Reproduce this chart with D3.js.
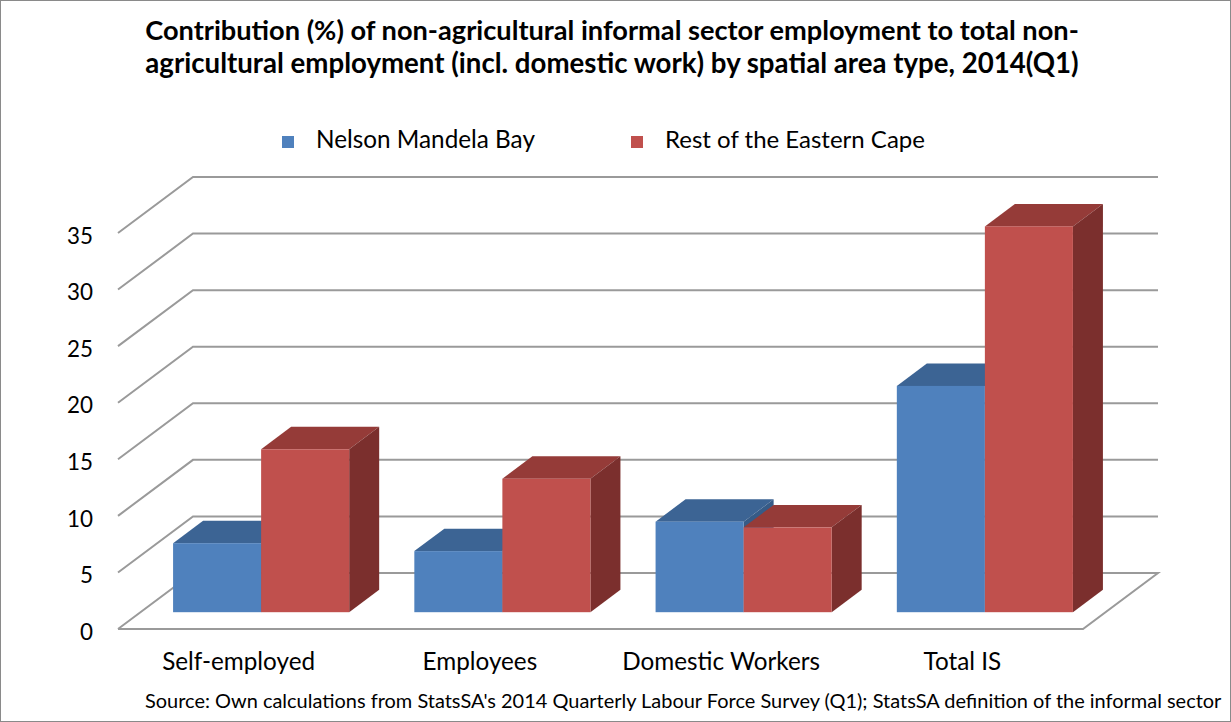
<!DOCTYPE html>
<html>
<head>
<meta charset="utf-8">
<script src="https://cdn.jsdelivr.net/npm/d3@7"></script>
<style>
  html, body { margin: 0; padding: 0; background: #fff; }
  svg { display: block; font-family: Lato, "Open Sans", sans-serif; }
</style>
</head>
<body>
<div id="chart"></div>
<script>
// data
const categories = ["Self-employed", "Employees", "Domestic Workers", "Total IS"];
const seriesNames = ["Nelson Mandela Bay", "Rest of the Eastern Cape"];
const nelsonMandelaBay = [6.1, 5.4, 8.0, 20.0];
const restOfEasternCape = [14.4, 11.8, 7.5, 34.1];
const yTicks = [0, 5, 10, 15, 20, 25, 30, 35];
const titleLines = [
    "Contribution (%) of non-agricultural informal sector employment to total non-",
    "agricultural employment (incl. domestic work) by spatial area type, 2014(Q1)"
];
const sourceNote = "Source: Own calculations from StatsSA's 2014 Quarterly Labour Force Survey (Q1); StatsSA definition of the informal sector";

const w = 1231, h = 722;
// 3d box: floor front edge and how far the back wall is shifted
const DX = 75, DY = 56;
const frontDepth = 0.3, backDepth = 0.7;

const colors = {
    front: ["#4f81bd", "#c0504d"],
    top:   ["#3c6494", "#953b38"],
    side:  ["#365b87", "#7b2f2d"]
};

let svg = d3.select("#chart")
    .append("svg")
    .attr("width", w)
    .attr("height", h);

// outer frame
svg.append("rect")
    .attr("x", 0.5).attr("y", 0.5)
    .attr("width", w - 1).attr("height", h - 1)
    .attr("fill", "#fff")
    .attr("stroke", "#8a8a8a");

let xScale = d3.scaleBand()
    .domain(categories)
    .range([118, 1083])
    .paddingInner(0)
    .paddingOuter(0);

let xSub = d3.scaleBand()
    .domain(seriesNames)
    .range([0, xScale.bandwidth()])
    .paddingInner(0)
    .paddingOuter(0.37);

let yScale = d3.scaleLinear()
    .domain([0, 35])
    .range([629, 233]);

// project a point (x on floor front, value, depth 0..1)
function pt(x, v, d) {
    return [x + d * DX, yScale(v) - d * DY];
}

// shrink/grow font so the text gets the wanted width
function fitFont(sel, size, target) {
    sel.attr("font-size", size);
    let len = sel.node().getComputedTextLength();
    sel.attr("font-size", size * target / len);
    return size * target / len;
}

// gridlines: left wall + back wall
let grid = svg.append("g").attr("class", "grid")
    .attr("fill", "none")
    .attr("stroke", "#9a9a9a")
    .attr("stroke-width", 2);

let x0 = xScale.range()[0], x1 = xScale.range()[1];
yTicks.forEach((v) => {
    let pts = [pt(x0, v, 0), pt(x0, v, 1), pt(x1, v, 1)];
    if (v === 0) {
        pts.push(pt(x1, v, 0));
        pts.push(pt(x0, v, 0));
    }
    grid.append("path").attr("d", d3.line()(pts));
});

// bars
let bars = svg.append("g").attr("class", "bars");
let seriesValues = [nelsonMandelaBay, restOfEasternCape];

categories.forEach((c, ci) => {
    seriesNames.forEach((s, si) => {
        let v = seriesValues[si][ci];
        let xl = xScale(c) + xSub(s);
        let xr = xl + xSub.bandwidth();
        let g = bars.append("g");
        // top face
        g.append("path")
            .attr("d", d3.line()([pt(xl, v, frontDepth), pt(xr, v, frontDepth), pt(xr, v, backDepth), pt(xl, v, backDepth)]) + "Z")
            .attr("fill", colors.top[si]);
        // right side
        g.append("path")
            .attr("d", d3.line()([pt(xr, 0, frontDepth), pt(xr, v, frontDepth), pt(xr, v, backDepth), pt(xr, 0, backDepth)]) + "Z")
            .attr("fill", colors.side[si]);
        // front face
        let a = pt(xl, v, frontDepth), b = pt(xr, 0, frontDepth);
        g.append("rect")
            .attr("x", a[0]).attr("y", a[1])
            .attr("width", b[0] - a[0]).attr("height", b[1] - a[1])
            .attr("fill", colors.front[si]);
    });
});

// y axis labels at the front plane
let yAxis = d3.axisLeft(yScale)
    .tickValues(yTicks)
    .tickSize(0)
    .tickPadding(0);

let yG = svg.append("g")
    .attr("class", "axis")
    .attr("transform", "translate(93,3)")
    .call(yAxis);
yG.select(".domain").remove();
yG.selectAll("text")
    .attr("font-family", "Lato, sans-serif")
    .attr("fill", "#000");
let ySize = fitFont(yG.selectAll("text").filter((d) => d === 35), 20, 26);
yG.selectAll("text").attr("font-size", ySize);

// category labels
let xAxis = d3.axisBottom(xScale)
    .tickSize(0)
    .tickPadding(0);

let xG = svg.append("g")
    .attr("class", "axis")
    .attr("transform", "translate(0,652)")
    .call(xAxis);
xG.select(".domain").remove();
xG.selectAll("text")
    .attr("font-family", "Lato, sans-serif")
    .attr("fill", "#000")
    .attr("dy", "0.75em");
let xSize = fitFont(xG.selectAll("text").filter((d) => d === "Self-employed"), 20, 153);
xG.selectAll("text").attr("font-size", xSize);

// title
titleLines.forEach((t, i) => {
    let tt = svg.append("text")
        .attr("x", 612)
        .attr("y", 40 + i * 33)
        .attr("text-anchor", "middle")
        .attr("font-weight", "bold")
        .attr("fill", "#000")
        .text(t);
    fitFont(tt, 24, 934);
});

// legend
let legendX = [282, 631];
let legendW = [219, 260];
let legend = svg.append("g").attr("class", "legend");
seriesNames.forEach((s, i) => {
    legend.append("rect")
        .attr("x", legendX[i]).attr("y", 136)
        .attr("width", 12).attr("height", 12)
        .attr("fill", colors.front[i]);
    let lt = legend.append("text")
        .attr("x", legendX[i] + 34)
        .attr("y", 148)
        .attr("fill", "#000")
        .text(s);
    fitFont(lt, 20, legendW[i]);
});

// source note
let src = svg.append("text")
    .attr("x", 145)
    .attr("y", 708)
    .attr("fill", "#000")
    .text(sourceNote);
fitFont(src, 17, 1077);
</script>
</body>
</html>
